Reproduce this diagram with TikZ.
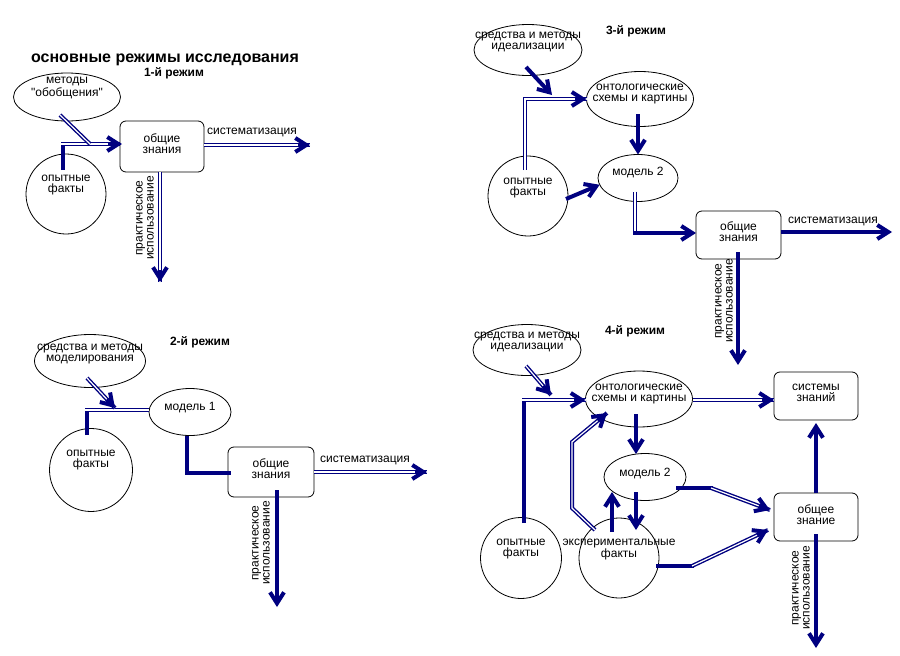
\documentclass[tikz,border=0pt]{standalone}
\usepackage{fontspec}
\setmainfont{Liberation Sans}
\newfontfamily\qfont{Liberation Sans}
\usetikzlibrary{arrows.meta,calc,shapes.geometric}
\definecolor{navy}{RGB}{0,0,128}
\begin{document}
\begin{tikzpicture}[x=1pt,y=-1pt,
  every node/.style={inner sep=0pt, outer sep=0pt},
  tx/.style={font=\fontsize{12}{11}\selectfont, align=center},
  hd/.style={font=\bfseries\fontsize{12}{14}\selectfont},
  lab/.style 2 args={label={[tx,anchor=center,yshift=#1]center:{#2}}},
  ov/.style={draw=black, line width=0.8pt, ellipse},
  rnd/.style={draw=black, line width=0.8pt, circle},
  bx/.style={draw=black, line width=0.8pt, rounded corners=6pt},
  dbl/.style={draw=navy, double=white, line width=1.4pt, double distance=1.2pt},
  thk/.style={draw=navy, line width=4pt},
  tip/.style={draw=navy, line width=4pt, -{Straight Barb[length=11pt,width=14pt,line width=0pt 1]}},
]
\useasboundingbox[fill=white] (0,0) rectangle (900,656);

% ---------------- mode 1 ----------------
\node[font=\bfseries\fontsize{16}{18}\selectfont] (ttl) at (165,60) {основные режимы исследования};
\node[hd] (r1) at (174,73) {1-й режим};
\node[ov, minimum width=107pt, minimum height=48pt, lab={9pt}{методы\\{\qfont"}обобщения{\qfont"}}] (me1) at (67,97) {};
\node[rnd, minimum size=80pt, lab={9pt}{опытные\\факты}] (of1) at (66,194) {};
\node[bx, minimum width=84pt, minimum height=51pt, lab={3pt}{общие\\знания}] (gk1) at (162,146.5) {};

\coordinate (c1) at (63,144);
\draw[thk] ($(of1.center)+(-3,-24)$) -- ([yshift=2pt]c1);
\draw[dbl] ([xshift=-2pt]c1) -- (gk1.west |- c1);
\draw[tip] ($(gk1.west |- c1)+(-12,0)$) -- ([xshift=2pt]gk1.west |- c1);
\coordinate (m1) at (90,144);
\draw[dbl] ($(me1.center)+(-7,18)$) -- (m1);

\coordinate (s1) at (310,145);
\draw[dbl] (gk1.east |- s1) -- (s1);
\draw[tip] ($(s1)+(-12,0)$) -- (s1);
\node[tx] (sl1) at (252,132) {систематизация};

\coordinate (p1) at (160,282);
\draw[dbl] (p1 |- gk1.south) -- (p1);
\draw[tip] ($(p1)+(0,-12)$) -- (p1);
\node[tx, rotate=90] (pl1) at (145,218) {практическое\\использование};

% ---------------- mode 2 ----------------
\node[hd] (r2) at (200,342) {2-й режим};
\node[ov, minimum width=111pt, minimum height=53pt, lab={7pt}{средства и методы\\моделирования}] (me2) at (90,361) {};
\node[rnd, minimum size=83pt, lab={10pt}{опытные\\факты}] (of2) at (91,470) {};
\node[ov, minimum width=82pt, minimum height=47pt, lab={4pt}{модель 1}] (mo1) at (190,412) {};
\node[bx, minimum width=86pt, minimum height=50pt, lab={3pt}{общие\\знания}] (gk2) at (271,472) {};

\coordinate (c2) at (87,410);
\draw[thk] ($(of2.center)+(-4,-35)$) -- ([yshift=2pt]c2);
\draw[dbl] ([xshift=-2pt]c2) -- (mo1.west |- c2);
\coordinate (a2) at ($(me2.center)+(-3,17)$);
\coordinate (m2) at (115,408);
\draw[dbl] (a2) -- (m2);
\draw[tip] ($(m2)!12pt!(a2)$) -- (m2);

\coordinate (c3) at (187,473);
\draw[thk] ($(mo1.south)+(-3,0)$) -- (c3) -- ([xshift=3pt]gk2.west |- c3);

\coordinate (s2) at (427,472);
\draw[dbl] (gk2.east |- s2) -- (s2);
\draw[tip] ($(s2)+(-12,0)$) -- (s2);
\node[tx] (sl2) at (365,460) {систематизация};

\coordinate (p2) at (277,607);
\draw[tip] ($(p2 |- gk2.south)+(0,-7)$) -- (p2);
\node[tx, rotate=90] (pl2) at (261,543) {практическое\\использование};

% ---------------- mode 3 ----------------
\node[hd] (r3) at (636,31) {3-й режим};
\node[ov, minimum width=108pt, minimum height=51pt, lab={8pt}{средства и методы\\идеализации}] (me3) at (528,50) {};
\node[ov, minimum width=107pt, minimum height=55pt, lab={5pt}{онтологические\\схемы и картины}] (on3) at (640,99) {};
\node[ov, minimum width=80pt, minimum height=47pt, lab={5pt}{модель 2}] (mo3) at (638,178) {};
\node[rnd, minimum size=80pt, lab={8pt}{опытные\\факты}] (of3) at (528,196) {};
\node[bx, minimum width=85pt, minimum height=48pt, lab={3pt}{общие\\знания}] (gk3) at (738.5,235) {};

\coordinate (t3) at (552,95);
\draw[tip] ($(me3.center)+(-2,17)$) -- (t3);
\draw[dbl] ($(of3.center)+(-3,-26)$) |- (on3.west);
\draw[tip] ($(on3.west)+(-12,0)$) -- (on3.west);
\draw[tip] ($(on3.center)+(-2,15)$) -- (mo3.north);
\draw[tip] ($(of3.center)+(38,3)$) -- (mo3.190);

\coordinate (c3b) at (635,233);
\draw[dbl] ($(mo3.south)+(-3,-10)$) -- ([yshift=2pt]c3b);
\draw[tip] ([xshift=-2pt]c3b) -- (gk3.west |- c3b);

\coordinate (s3) at (892,232);
\draw[tip] (gk3.east |- s3) -- (s3);
\node[tx] (sl3) at (833,221) {систематизация};

\coordinate (p3) at (738,365);
\draw[tip] ($(p3 |- gk3.south)+(0,-7)$) -- (p3);
\node[tx, rotate=90] (pl3) at (724,301) {практическое\\использование};

% ---------------- mode 4 ----------------
\node[hd] (r4) at (635,331) {4-й режим};
\node[ov, minimum width=108pt, minimum height=51pt, lab={8pt}{средства и методы\\идеализации}] (me4) at (527,350) {};
\node[ov, minimum width=107pt, minimum height=56pt, lab={5pt}{онтологические\\схемы и картины}] (on4) at (639,399) {};
\node[ov, minimum width=82pt, minimum height=47pt, lab={4pt}{модель 2}] (mo4) at (645,477) {};
\node[rnd, minimum size=81pt, lab={9pt}{опытные\\факты}] (of4) at (521,558) {};
\node[rnd, minimum size=80pt, lab={8.5pt}{экспериментальные\\факты}] (ex4) at (619,558) {};
\node[bx, minimum width=84pt, minimum height=48pt, lab={3pt}{системы\\знаний}] (sy4) at (816,396) {};
\node[bx, minimum width=84pt, minimum height=48pt, lab={2.5pt}{общее\\знание}] (gk4) at (816,517) {};

\coordinate (a4) at ($(me4.center)+(-1,16)$);
\coordinate (t4) at (551,395);
\draw[dbl] (a4) -- (t4);
\draw[tip] ($(t4)!12pt!(a4)$) -- (t4);

\coordinate (c4) at (524,400);
\draw[thk] ($(of4.center)+(3,-35)$) -- ([yshift=2pt]c4);
\draw[dbl] ([xshift=-2pt]c4) -- (on4.west |- c4);
\draw[tip] ($(on4.west |- c4)+(-12,0)$) -- (on4.west |- c4);

\draw[dbl] (on4.east |- c4) -- (sy4.west |- c4);
\draw[tip] ($(sy4.west |- c4)+(-12,0)$) -- (sy4.west |- c4);

\draw[tip] ($(on4.center)+(-3,15)$) -- ($(mo4.center)+(-9,-23)$);
\draw[tip] ($(mo4.center)+(-9,15)$) -- ($(ex4.center)+(17,-28)$);
\draw[tip] ($(ex4.center)+(-7,-26)$) -- ($(mo4.center)+(-33,15)$);

\coordinate (e1) at ($(ex4.center)+(-24,-28)$);
\coordinate (e2) at (572,508);
\coordinate (e3) at (572,442);
\coordinate (e4) at ($(on4.center)+(-32,14)$);
\draw[dbl] (e1) -- (e2) -- (e3) -- (e4);
\draw[tip] ($(e4)!12pt!(e3)$) -- (e4);

\coordinate (f1) at ($(mo4.center)+(31,11)$);
\coordinate (f2) at (713,488);
\coordinate (f3) at ($(gk4.west)+(-4,-7)$);
\draw[thk] (f1) -- (f2);
\draw[dbl] ([xshift=-2pt]f2) -- (f3);
\draw[tip] ($(f3)!12pt!(f2)$) -- (f3);

\coordinate (g1) at ($(ex4.center)+(37,8)$);
\coordinate (g2) at (694,566);
\coordinate (g3) at ($(gk4.west)+(-6,13)$);
\draw[thk] (g1) -- (g2);
\draw[dbl] ([xshift=-2pt]g2) -- (g3);
\draw[tip] ($(g3)!12pt!(g2)$) -- (g3);

\draw[tip] (gk4.north) -- ($(sy4.south)+(0,3)$);

\coordinate (p4) at (816,648);
\draw[tip] ($(gk4.south)+(0,-7)$) -- (p4);
\node[tx, rotate=90] (pl4) at (801,588) {практическое\\использование};
\end{tikzpicture}
\end{document}
